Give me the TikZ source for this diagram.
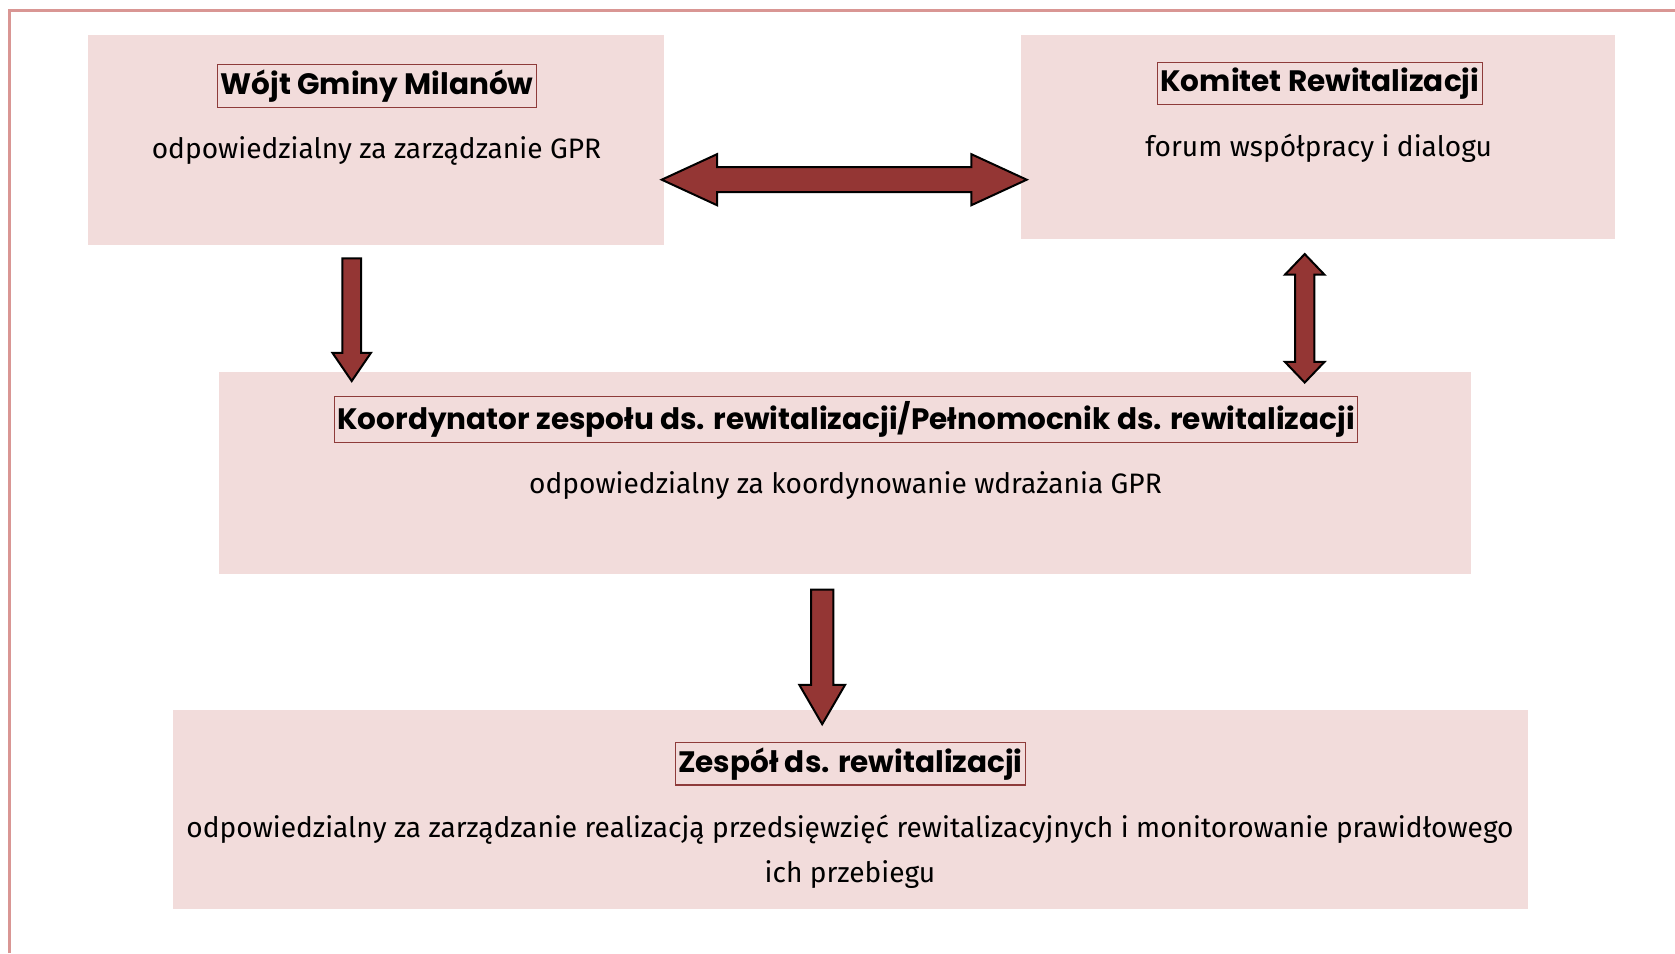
\documentclass[tikz,border=0pt]{standalone}
\usepackage{fontspec}
\setmainfont{Fira Sans}
\newfontfamily\titlefont{Poppins}
\usetikzlibrary{shapes.arrows, positioning, calc}
\definecolor{panelpink}{HTML}{F2DCDB}
\definecolor{arrowred}{HTML}{943634}
\definecolor{frameline}{HTML}{D99694}
\definecolor{titleline}{HTML}{8E3B3A}
\tikzset{
	panelnode/.style={
			rectangle,
			draw=none,
			fill=panelpink,
			inner sep=0pt
		},
	titlenode/.style={
			rectangle,
			draw=titleline,
			line width=0.12mm,
			fill=panelpink,
			inner xsep=0.3mm,
			inner ysep=0.5mm,
			font=\titlefont\bfseries\fontsize{8.4pt}{9pt}\selectfont
		},
	descnode/.style={
			align=center,
			inner sep=0pt,
			font=\fontsize{8pt}{12.75pt}\selectfont
		},
	downarrow/.style={
			single arrow,
			shape border rotate=270,
			draw=black,
			fill=arrowred,
			line width=0.2mm
		},
	twowayarrow/.style={
			double arrow,
			draw=black,
			fill=arrowred,
			line width=0.2mm
		}
}

\begin{document}
\begin{tikzpicture}[x=1mm, y=-1mm]
\useasboundingbox (0,0) rectangle (167.5,95.3);
\draw[frameline, line width=0.3mm] (0.9,95.3) -- (0.9,1.05) -- (167.5,1.05);

% panels
\node[panelnode, minimum width=57.68mm, minimum height=20.93mm] (wojt) at (37.6,14.0) {};
\node[panelnode, minimum width=59.4mm, minimum height=20.4mm] (komitet) at (131.8,13.73) {};
\node[panelnode, minimum width=125.2mm, minimum height=20.19mm] (koord) at (84.5,47.27) {};
\node[panelnode, minimum width=135.45mm, minimum height=19.9mm] (zespol) at (85.03,80.95) {};

% titles
\node[titlenode] (wojttitle) at (37.7,8.6) {Wójt Gminy Milanów};
\node[titlenode] (komitettitle) at (131.98,8.34) {Komitet Rewitalizacji};
\node[titlenode] (koordtitle) at (84.6,41.98) {Koordynator zespołu ds. rewitalizacji/Pełnomocnik ds. rewitalizacji};
\node[titlenode] (zespoltitle) at (85.04,76.38) {Zespół ds. rewitalizacji};

\node[descnode] (wojtdesc) at (37.65,15.1) {odpowiedzialny za zarządzanie GPR};
\node[descnode] (komitetdesc) at (131.87,14.85) {forum współpracy i dialogu};
\node[descnode] (koorddesc) at (84.55,48.52) {odpowiedzialny za koordynowanie wdrażania GPR};
\node[descnode] (zespoldesc) at (85.0,85.15) {odpowiedzialny za zarządzanie realizacją przedsięwzięć rewitalizacyjnych i monitorowanie prawidłowego\\ich przebiegu};

% arrows
\node[twowayarrow, minimum height=36.5mm, inner sep=1.15mm, double arrow head extend=1.3mm, double arrow tip angle=49.5] (wk) at (84.42,17.97) {};
\node[downarrow, minimum height=12.27mm, inner sep=0.84mm, single arrow head extend=0.98mm, single arrow tip angle=68.7] (wkoord) at (35.17,31.28) {};
\node[twowayarrow, shape border rotate=90, minimum height=12.85mm, inner sep=0.87mm, double arrow head extend=1.0mm, double arrow tip angle=87.5] (kkoord) at (130.47,31.83) {};
\node[downarrow, minimum height=13.45mm, inner sep=1.02mm, single arrow head extend=1.17mm, single arrow tip angle=60.4] (kzesp) at (82.22,64.73) {};

\end{tikzpicture}
\end{document}
